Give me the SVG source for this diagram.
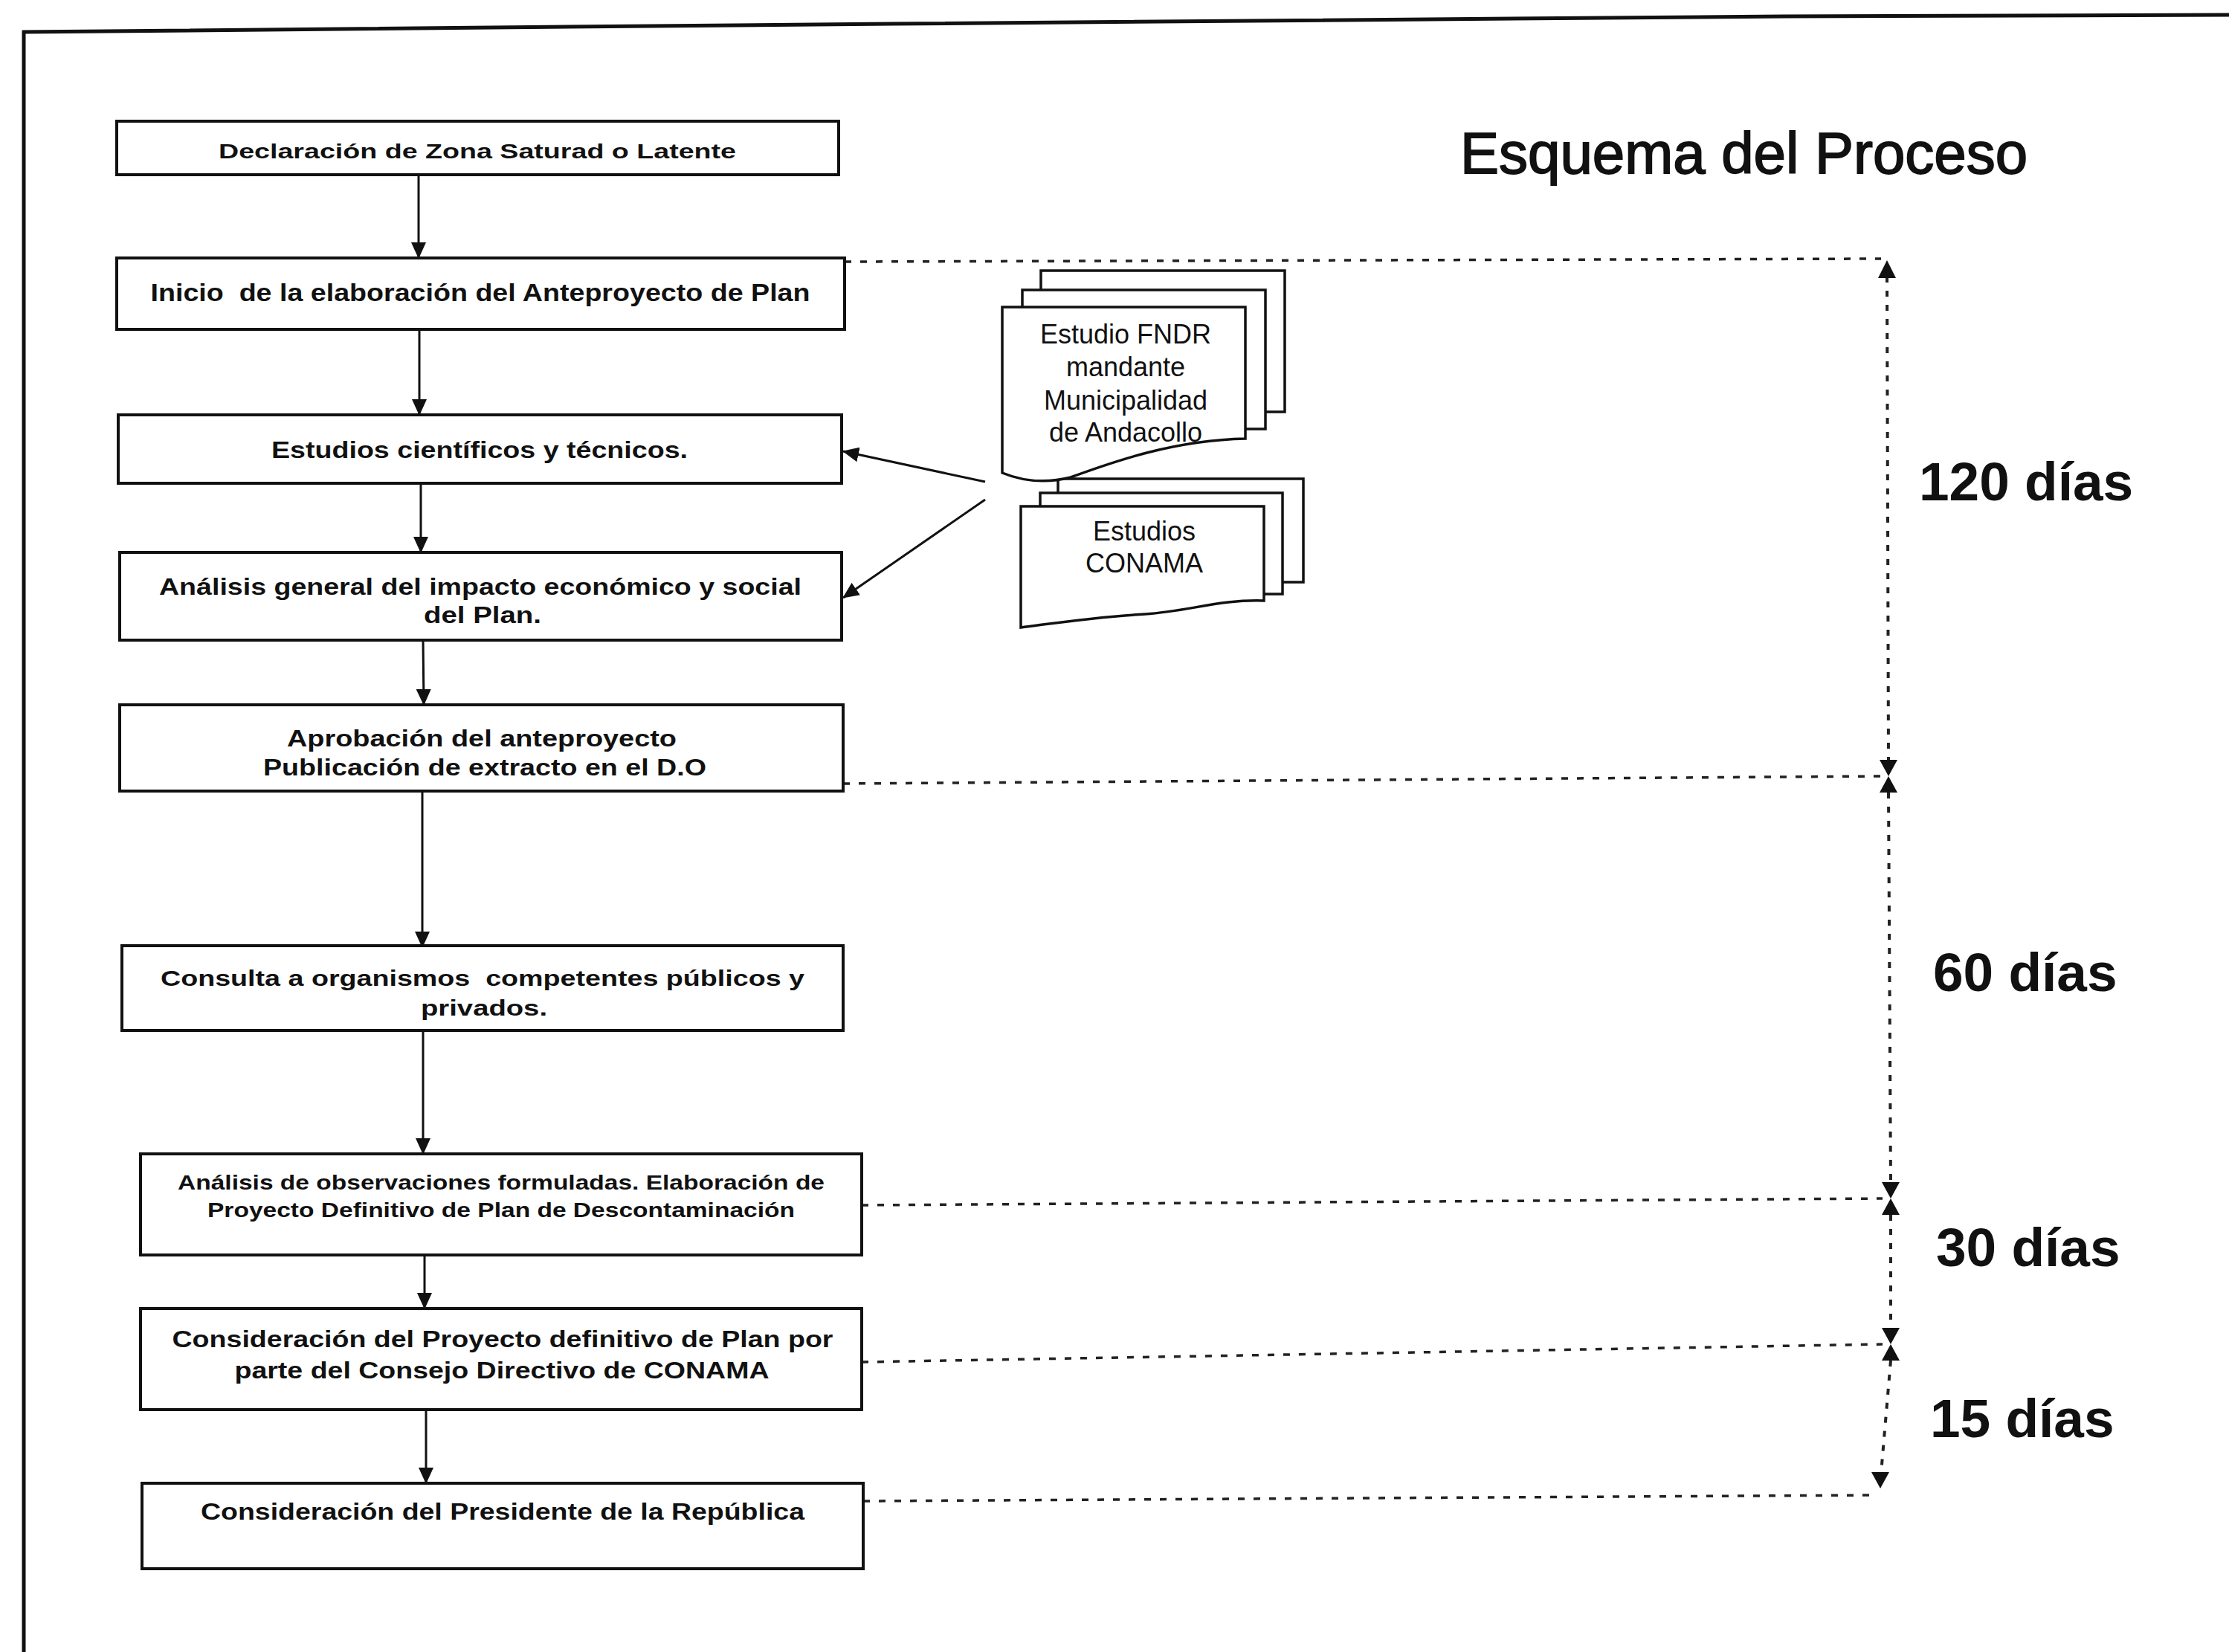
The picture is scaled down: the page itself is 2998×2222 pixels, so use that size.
<svg xmlns="http://www.w3.org/2000/svg" width="2998" height="2222" viewBox="0 0 2998 2222">
<style>
.box{fill:#fff;stroke:#111;stroke-width:4}
.bx{font-family:"Liberation Sans",Arial,sans-serif;font-weight:bold;text-anchor:middle;fill:#111}
.doc{fill:#fff;stroke:#111;stroke-width:3.5}
.dt{font-family:"Liberation Sans",Arial,sans-serif;font-size:36px;text-anchor:middle;fill:#111}
.con{fill:none;stroke:#111;stroke-width:3}
.dash{fill:none;stroke:#222;stroke-width:3.5;stroke-dasharray:9 12}
.vdash{fill:none;stroke:#222;stroke-width:4;stroke-dasharray:8 11}
.tick{fill:#111}
.days{font-family:"Liberation Sans",Arial,sans-serif;font-weight:bold;font-size:73px;fill:#111}
.title{font-family:"Liberation Sans",Arial,sans-serif;font-size:78px;fill:#111;stroke:#111;stroke-width:1.8}
</style>
<defs>
<marker id="ah" markerUnits="userSpaceOnUse" markerWidth="22" markerHeight="20" refX="21" refY="10" orient="auto">
<path d="M0,0 L22,10 L0,20 Z" fill="#111"/>
</marker>
</defs>
<rect width="2998" height="2222" fill="#fff"/>
<g id="frame">
<polyline points="30,43 1200,32 2400,22 2998,20" fill="none" stroke="#111" stroke-width="5"/>
<line x1="32" y1="41" x2="32" y2="2222" stroke="#111" stroke-width="5"/>
</g>
<text id="title" class="title" x="1964" y="233">Esquema del Proceso</text>

<g id="dimensions">
<path class="dash" d="M1136,352 L2530,348"/>
<path class="dash" d="M1134,1054 L2530,1044"/>
<path class="dash" d="M1159,1621 L2532,1612"/>
<path class="dash" d="M1159,1832 L2532,1808"/>
<path class="dash" d="M1161,2019 L2520,2011"/>
<path class="vdash" d="M2538,372 L2540,1022 M2540,1066 L2543,1590 M2543,1634 L2543,1786 M2543,1830 L2530,1982"/>
<path class="tick" d="M2538,350 L2550,374 L2526,374 Z"/>
<path class="tick" d="M2540,1044 L2528,1022 L2552,1022 Z M2540,1044 L2528,1066 L2552,1066 Z"/>
<path class="tick" d="M2543,1612 L2531,1590 L2555,1590 Z M2543,1612 L2531,1634 L2555,1634 Z"/>
<path class="tick" d="M2543,1808 L2531,1786 L2555,1786 Z M2543,1808 L2531,1830 L2555,1830 Z"/>
<path class="tick" d="M2529,2002 L2517,1980 L2541,1980 Z"/>
<text class="days" x="2581" y="673">120 días</text>
<text class="days" x="2600" y="1333">60 días</text>
<text class="days" x="2604" y="1703">30 días</text>
<text class="days" x="2596" y="1933">15 días</text>
</g>

<g id="connectors">
<line class="con" x1="563" y1="235" x2="563" y2="347" marker-end="url(#ah)"/>
<line class="con" x1="564" y1="443" x2="564" y2="558" marker-end="url(#ah)"/>
<line class="con" x1="566" y1="650" x2="566" y2="743" marker-end="url(#ah)"/>
<line class="con" x1="569" y1="861" x2="570" y2="948" marker-end="url(#ah)"/>
<line class="con" x1="568" y1="1064" x2="568" y2="1274" marker-end="url(#ah)"/>
<line class="con" x1="569" y1="1345" x2="569" y2="1552" marker-end="url(#ah)"/>
<line class="con" x1="571" y1="1688" x2="571" y2="1760" marker-end="url(#ah)"/>
<line class="con" x1="573" y1="1896" x2="573" y2="1995" marker-end="url(#ah)"/>
<line class="con" x1="1325" y1="648" x2="1134" y2="607" marker-end="url(#ah)"/>
<line class="con" x1="1325" y1="672" x2="1134" y2="804" marker-end="url(#ah)"/>
</g>

<g id="n1">
<rect class="box" x="157" y="163" width="971" height="72"/>
<text class="bx" x="642" y="213" font-size="27" textLength="696" lengthAdjust="spacingAndGlyphs">Declaración de Zona Saturad o Latente</text>
</g>
<g id="n2">
<rect class="box" x="157" y="347" width="979" height="96"/>
<text class="bx" x="646" y="405" font-size="33" textLength="887" lengthAdjust="spacingAndGlyphs" xml:space="preserve">Inicio  de la elaboración del Anteproyecto de Plan</text>
</g>
<g id="n3">
<rect class="box" x="159" y="558" width="973" height="92"/>
<text class="bx" x="645" y="616" font-size="31" textLength="560" lengthAdjust="spacingAndGlyphs">Estudios científicos y técnicos.</text>
</g>
<g id="n4">
<rect class="box" x="161" y="743" width="971" height="118"/>
<text class="bx" x="646" y="800" font-size="31" textLength="864" lengthAdjust="spacingAndGlyphs">Análisis general del impacto económico y social</text>
<text class="bx" x="649" y="838" font-size="31" textLength="158" lengthAdjust="spacingAndGlyphs">del Plan.</text>
</g>
<g id="n5">
<rect class="box" x="161" y="948" width="973" height="116"/>
<text class="bx" x="648" y="1004" font-size="31" textLength="524" lengthAdjust="spacingAndGlyphs">Aprobación del anteproyecto</text>
<text class="bx" x="652" y="1043" font-size="31" textLength="596" lengthAdjust="spacingAndGlyphs">Publicación de extracto en el D.O</text>
</g>
<g id="n6">
<rect class="box" x="164" y="1272" width="970" height="114"/>
<text class="bx" x="649" y="1326" font-size="30" textLength="866" lengthAdjust="spacingAndGlyphs" xml:space="preserve">Consulta a organismos  competentes públicos y</text>
<text class="bx" x="651" y="1366" font-size="30" textLength="170" lengthAdjust="spacingAndGlyphs">privados.</text>
</g>
<g id="n7">
<rect class="box" x="189" y="1552" width="970" height="136"/>
<text class="bx" x="674" y="1600" font-size="28" textLength="870" lengthAdjust="spacingAndGlyphs">Análisis de observaciones formuladas. Elaboración de</text>
<text class="bx" x="674" y="1637" font-size="28" textLength="790" lengthAdjust="spacingAndGlyphs">Proyecto Definitivo de Plan de Descontaminación</text>
</g>
<g id="n8">
<rect class="box" x="189" y="1760" width="970" height="136"/>
<text class="bx" x="676" y="1812" font-size="31" textLength="889" lengthAdjust="spacingAndGlyphs">Consideración del Proyecto definitivo de Plan por</text>
<text class="bx" x="675" y="1854" font-size="31" textLength="719" lengthAdjust="spacingAndGlyphs">parte del Consejo Directivo de CONAMA</text>
</g>
<g id="n9">
<rect class="box" x="191" y="1995" width="970" height="115"/>
<text class="bx" x="676" y="2044" font-size="31" textLength="812" lengthAdjust="spacingAndGlyphs">Consideración del Presidente de la República</text>
</g>

<g id="doc-conama">
<rect class="doc" x="1423" y="644" width="330" height="139"/>
<rect class="doc" x="1399" y="663" width="326" height="136"/>
<path class="doc" d="M1373,681 H1700 V808 C1640,806 1600,822 1540,826 C1470,830 1420,838 1373,844 Z"/>
<text class="dt" x="1539" y="727">Estudios</text>
<text class="dt" x="1539" y="770">CONAMA</text>
</g>
<g id="doc-fndr">
<rect class="doc" x="1400" y="364" width="328" height="190"/>
<rect class="doc" x="1375" y="390" width="327" height="187"/>
<path class="doc" d="M1348,413 H1675 V590 C1580,592 1500,620 1440,642 C1400,652 1370,645 1348,636 Z"/>
<text class="dt" x="1514" y="462">Estudio FNDR</text>
<text class="dt" x="1514" y="506">mandante</text>
<text class="dt" x="1514" y="551">Municipalidad</text>
<text class="dt" x="1514" y="594">de Andacollo</text>
</g>
</svg>
